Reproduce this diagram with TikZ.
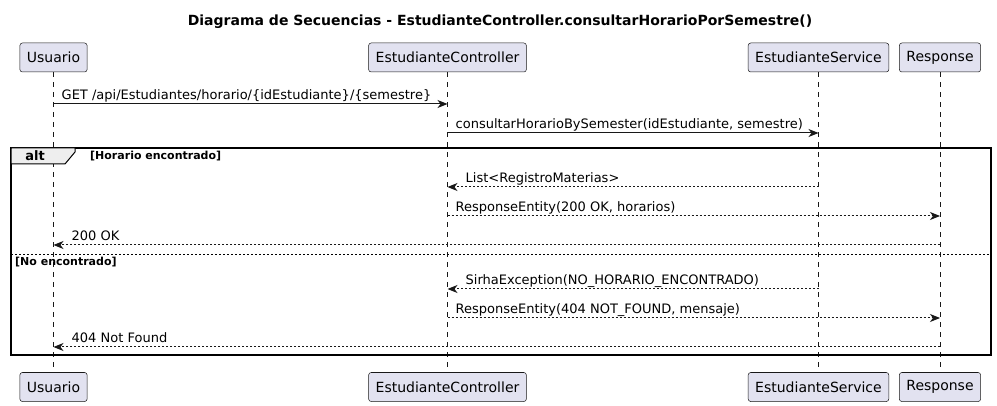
\documentclass[tikz,border=0pt]{standalone}
\usepackage{fontspec}
\setmainfont{DejaVu Sans}
\usepackage{tikz}
\usetikzlibrary{arrows.meta,positioning,calc}
\definecolor{partfill}{HTML}{E2E2F0}
\definecolor{uline}{HTML}{181818}
\definecolor{tabfill}{HTML}{EEEEEE}

\begin{document}
\begin{tikzpicture}[x=1pt, y=-1pt, >=Stealth]
\tikzstyle{part}=[draw=uline, rounded corners=2.5pt, fill=partfill, line width=0.5pt, minimum height=29pt, inner xsep=7pt, font=\fontsize{14}{16}\selectfont]
\tikzstyle{life}=[uline, line width=0.5pt, dash pattern=on 5pt off 5pt]
\tikzstyle{call}=[-{Stealth[length=10pt,width=8pt,inset=3pt]}, uline, line width=1pt]
\tikzstyle{reply}=[call, dash pattern=on 2pt off 2pt]
\tikzstyle{lbl}=[inner sep=0pt, anchor=base west, font=\fontsize{13}{15}\selectfont]
\tikzstyle{guard}=[inner sep=0pt, anchor=base west, font=\fontsize{11}{13}\selectfont\bfseries]

\useasboundingbox (0,0) rectangle (997,406);

\node[font=\fontsize{14}{16}\selectfont\bfseries] (title) at (500,22) {Diagrama de Secuencias - EstudianteController.consultarHorarioPorSemestre()};

% participants
\node[part] (usr) at (53.5,57.5) {Usuario};
\node[part] (ctl) at (447.5,57.5) {EstudianteController};
\node[part] (srv) at (818.5,57.5) {EstudianteService};
\node[part] (rsp) at (940,57.5) {Response};
\node[part] (usrB) at (53.5,387) {Usuario};
\node[part] (ctlB) at (447.5,387) {EstudianteController};
\node[part] (srvB) at (818.5,387) {EstudianteService};
\node[part] (rspB) at (940,387) {Response};

\draw[life] (usr) -- (usrB);
\draw[life] (ctl) -- (ctlB);
\draw[life] (srv) -- (srvB);
\draw[life] (rsp) -- (rspB);

% message rows
\coordinate (r1) at (0,104);
\coordinate (r2) at (0,133);
\coordinate (r3) at (0,187);
\coordinate (r4) at (0,216);
\coordinate (r5) at (0,245);
\coordinate (r6) at (0,289);
\coordinate (r7) at (0,318);
\coordinate (r8) at (0,347);

\draw[call] (usr |- r1) -- (ctl |- r1);
\node[lbl] at ($(usr |- r1)+(8,-4)$) {GET /api/Estudiantes/horario/\{idEstudiante\}/\{semestre\}};
\draw[call] (ctl |- r2) -- (srv |- r2);
\node[lbl] at ($(ctl |- r2)+(8,-4)$) {consultarHorarioBySemester(idEstudiante, semestre)};

% alt frame
\draw[line width=1.5pt] (11,148) rectangle (991,355);
\draw[fill=tabfill, line width=1pt] (11,148) -- (75,148) -- (75,152) -- (65,164) -- (11,164) -- cycle;
\node[font=\fontsize{13}{15}\selectfont\bfseries, inner sep=0pt, anchor=base] (alt) at (35,161) {alt};
\node[guard] (g1) at (90,160) {[Horario encontrado]};
\draw[line width=0.8pt, dash pattern=on 2pt off 2pt] (11,254) -- (991,254);
\node[guard] (g2) at (15,266) {[No encontrado]};

\draw[reply] (srv |- r3) -- (ctl |- r3);
\node[lbl] at ($(ctl |- r3)+(18,-4)$) {List\textless RegistroMaterias\textgreater};
\draw[reply] (ctl |- r4) -- (rsp |- r4);
\node[lbl] at ($(ctl |- r4)+(8,-4)$) {ResponseEntity(200 OK, horarios)};
\draw[reply] (rsp |- r5) -- (usr |- r5);
\node[lbl] at ($(usr |- r5)+(18,-4)$) {200 OK};

\draw[reply] (srv |- r6) -- (ctl |- r6);
\node[lbl] at ($(ctl |- r6)+(18,-4)$) {SirhaException(NO\_HORARIO\_ENCONTRADO)};
\draw[reply] (ctl |- r7) -- (rsp |- r7);
\node[lbl] at ($(ctl |- r7)+(8,-4)$) {ResponseEntity(404 NOT\_FOUND, mensaje)};
\draw[reply] (rsp |- r8) -- (usr |- r8);
\node[lbl] at ($(usr |- r8)+(18,-4)$) {404 Not Found};

\end{tikzpicture}
\end{document}
